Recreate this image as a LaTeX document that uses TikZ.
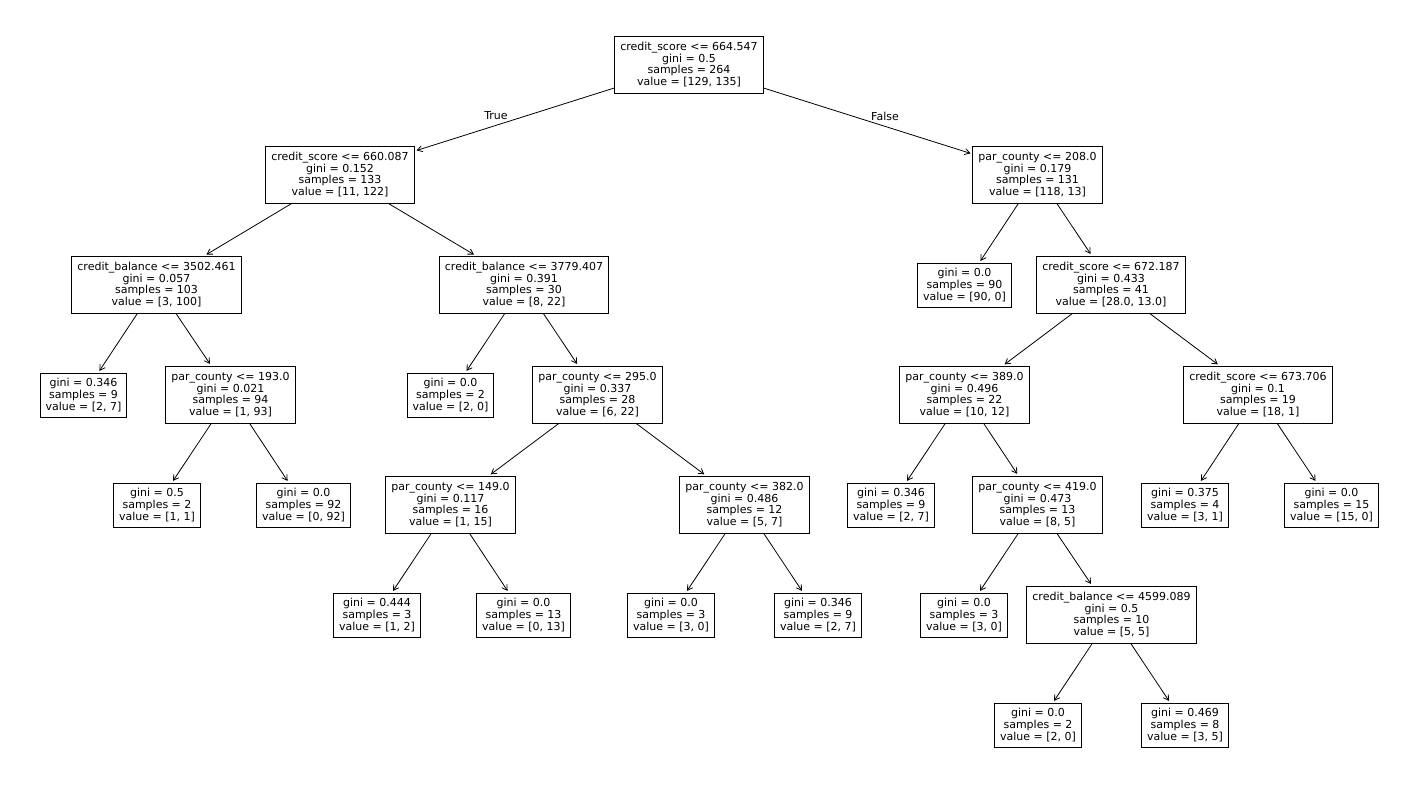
\documentclass[tikz,border=0pt]{standalone}
\usepackage{fontspec}
\setmainfont{DejaVu Sans}
\usetikzlibrary{arrows.meta}

\begin{document}
\begin{tikzpicture}[
    x=1pt, y=-1pt,
    split node/.style={draw, line width=0.9pt, align=center, inner xsep=5.5pt, inner ysep=2pt,
        minimum height=57pt, font=\fontsize{11}{11.7}\selectfont},
    leaf node/.style={split node, minimum height=44pt},
    edge lbl/.style={font=\fontsize{11}{11.7}\selectfont},
    >={Straight Barb[length=5pt,width=6pt]},
    line width=0.8pt
]
    \useasboundingbox (0,0) rectangle (1415,790);

    % Root
    \node[split node] (t) at (689,64.5) {credit\_score <= 664.547\\gini = 0.5\\samples = 264\\value = [129, 135]};

    % Left branch
    \node[split node] (tl) at (340,174.5) {credit\_score <= 660.087\\gini = 0.152\\samples = 133\\value = [11, 122]};
    \node[split node] (tll) at (156.5,284.5) {credit\_balance <= 3502.461\\gini = 0.057\\samples = 103\\value = [3, 100]};
    \node[leaf node] (tlll) at (83.5,395) {gini = 0.346\\samples = 9\\value = [2, 7]};
    \node[split node] (tllr) at (230.5,394.5) {par\_county <= 193.0\\gini = 0.021\\samples = 94\\value = [1, 93]};
    \node[leaf node] (tllrl) at (157,505) {gini = 0.5\\samples = 2\\value = [1, 1]};
    \node[leaf node] (tllrr) at (303.5,505) {gini = 0.0\\samples = 92\\value = [0, 92]};
    \node[split node] (tlr) at (524,284.5) {credit\_balance <= 3779.407\\gini = 0.391\\samples = 30\\value = [8, 22]};
    \node[leaf node] (tlrl) at (450.5,395) {gini = 0.0\\samples = 2\\value = [2, 0]};
    \node[split node] (tlrr) at (597.5,394.5) {par\_county <= 295.0\\gini = 0.337\\samples = 28\\value = [6, 22]};
    \node[split node] (tlrrl) at (450.5,504.5) {par\_county <= 149.0\\gini = 0.117\\samples = 16\\value = [1, 15]};
    \node[leaf node] (tlrrll) at (377,615) {gini = 0.444\\samples = 3\\value = [1, 2]};
    \node[leaf node] (tlrrlr) at (523.5,615) {gini = 0.0\\samples = 13\\value = [0, 13]};
    \node[split node] (tlrrr) at (744.5,504.5) {par\_county <= 382.0\\gini = 0.486\\samples = 12\\value = [5, 7]};
    \node[leaf node] (tlrrrl) at (671,615) {gini = 0.0\\samples = 3\\value = [3, 0]};
    \node[leaf node] (tlrrrr) at (818,615) {gini = 0.346\\samples = 9\\value = [2, 7]};

    % Right branch
    \node[split node] (tr) at (1037.5,174.5) {par\_county <= 208.0\\gini = 0.179\\samples = 131\\value = [118, 13]};
    \node[leaf node] (trl) at (964.5,285) {gini = 0.0\\samples = 90\\value = [90, 0]};
    \node[split node] (trr) at (1111,284.5) {credit\_score <= 672.187\\gini = 0.433\\samples = 41\\value = [28.0, 13.0]};
    \node[split node] (trrl) at (964.5,394.5) {par\_county <= 389.0\\gini = 0.496\\samples = 22\\value = [10, 12]};
    \node[leaf node] (trrll) at (891,505) {gini = 0.346\\samples = 9\\value = [2, 7]};
    \node[split node] (trrlr) at (1037.5,504.5) {par\_county <= 419.0\\gini = 0.473\\samples = 13\\value = [8, 5]};
    \node[leaf node] (trrlrl) at (964,615) {gini = 0.0\\samples = 3\\value = [3, 0]};
    \node[split node] (trrlrr) at (1111.5,614.5) {credit\_balance <= 4599.089\\gini = 0.5\\samples = 10\\value = [5, 5]};
    \node[leaf node] (trrlrrl) at (1038,725) {gini = 0.0\\samples = 2\\value = [2, 0]};
    \node[leaf node] (trrlrrr) at (1185,725) {gini = 0.469\\samples = 8\\value = [3, 5]};
    \node[split node] (trrr) at (1258,394.5) {credit\_score <= 673.706\\gini = 0.1\\samples = 19\\value = [18, 1]};
    \node[leaf node] (trrrl) at (1185,505) {gini = 0.375\\samples = 4\\value = [3, 1]};
    \node[leaf node] (trrrr) at (1331.5,505) {gini = 0.0\\samples = 15\\value = [15, 0]};

    % Edges
    \foreach \p/\c in {t/tl, t/tr, tl/tll, tl/tlr, tll/tlll, tll/tllr, tllr/tllrl, tllr/tllrr,
        tlr/tlrl, tlr/tlrr, tlrr/tlrrl, tlrr/tlrrr, tlrrl/tlrrll, tlrrl/tlrrlr, tlrrr/tlrrrl, tlrrr/tlrrrr,
        tr/trl, tr/trr, trr/trrl, trr/trrr, trrl/trrll, trrl/trrlr, trrlr/trrlrl, trrlr/trrlrr,
        trrlrr/trrlrrl, trrlrr/trrlrrr, trrr/trrrl, trrr/trrrr}
        \draw[->, shorten >=2pt] (\p) -- (\c);

    \node[edge lbl] (lbltrue) at (496,116) {True};
    \node[edge lbl] (lblfalse) at (885,116) {False};
\end{tikzpicture}
\end{document}
